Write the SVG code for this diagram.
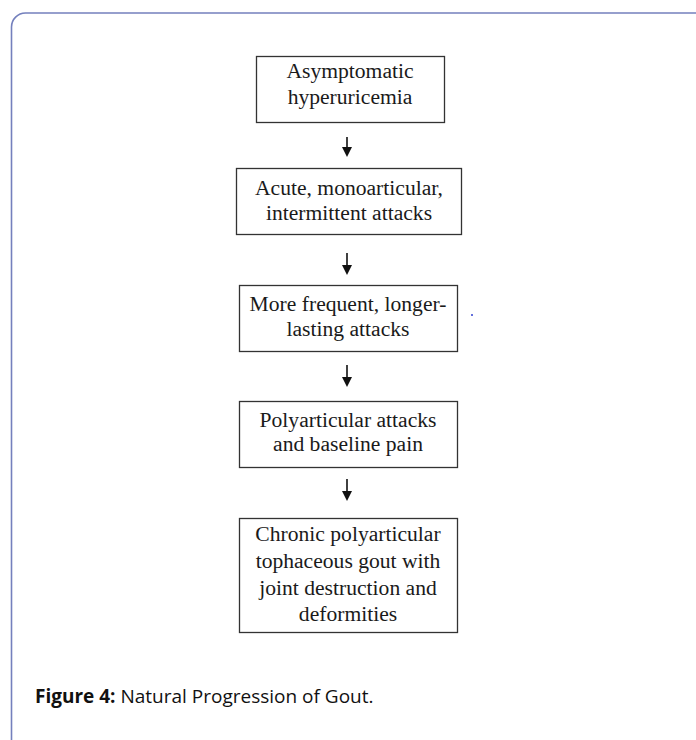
<svg xmlns="http://www.w3.org/2000/svg" width="696" height="740" viewBox="0 0 696 740">
<style>
.frame{fill:none;stroke:#7480bd;stroke-width:1.6}
.box{fill:#ffffff;stroke:#333333;stroke-width:1.3}
.t{font-family:"Liberation Serif","Times New Roman",serif;font-size:21.6px;fill:#1a1a1a;text-anchor:middle}
.cap{font-family:"Open Sans","Liberation Sans",sans-serif;font-size:19px;fill:#111111}
.arr{stroke:#111111;stroke-width:1.6;fill:none}
.head{fill:#111111}
</style>
<rect width="696" height="740" fill="#ffffff"/>
<path class="frame" d="M11.5,745 L11.5,27 A14,14 0 0 1 25.5,13 L700,13"/>
<g id="connectors">
<line class="arr" x1="347" y1="137" x2="347" y2="149"/>
<path class="head" d="M342,147 L352,147 L347,157 Z"/>
<line class="arr" x1="347" y1="253" x2="347" y2="267"/>
<path class="head" d="M342,265 L352,265 L347,275 Z"/>
<line class="arr" x1="347" y1="365" x2="347" y2="379"/>
<path class="head" d="M342,377 L352,377 L347,387 Z"/>
<line class="arr" x1="347" y1="479" x2="347" y2="493"/>
<path class="head" d="M342,491 L352,491 L347,501 Z"/>
</g>
<g id="n1">
<rect class="box" x="256.5" y="56.5" width="188" height="66"/>
<text class="t" x="350" y="78">Asymptomatic</text>
<text class="t" x="350" y="104">hyperuricemia</text>
</g>
<g id="n2">
<rect class="box" x="236.5" y="168.5" width="225" height="66"/>
<text class="t" x="349" y="195">Acute, monoarticular,</text>
<text class="t" x="349" y="220">intermittent attacks</text>
</g>
<g id="n3">
<rect class="box" x="239.5" y="285.5" width="218" height="66"/>
<text class="t" x="348" y="311">More frequent, longer-</text>
<text class="t" x="348" y="336">lasting attacks</text>
</g>
<g id="n4">
<rect class="box" x="239.5" y="401.5" width="218" height="66"/>
<text class="t" x="348" y="427">Polyarticular attacks</text>
<text class="t" x="348" y="451">and baseline pain</text>
</g>
<g id="n5">
<rect class="box" x="239.5" y="518.5" width="218" height="114"/>
<text class="t" x="348" y="541">Chronic polyarticular</text>
<text class="t" x="348" y="568">tophaceous gout with</text>
<text class="t" x="348" y="595">joint destruction and</text>
<text class="t" x="348" y="621">deformities</text>
</g>
<circle cx="472" cy="315" r="1" fill="#3040d0"/>
<text class="cap" x="35" y="703"><tspan font-weight="bold">Figure 4:</tspan> Natural Progression of Gout.</text>
</svg>
